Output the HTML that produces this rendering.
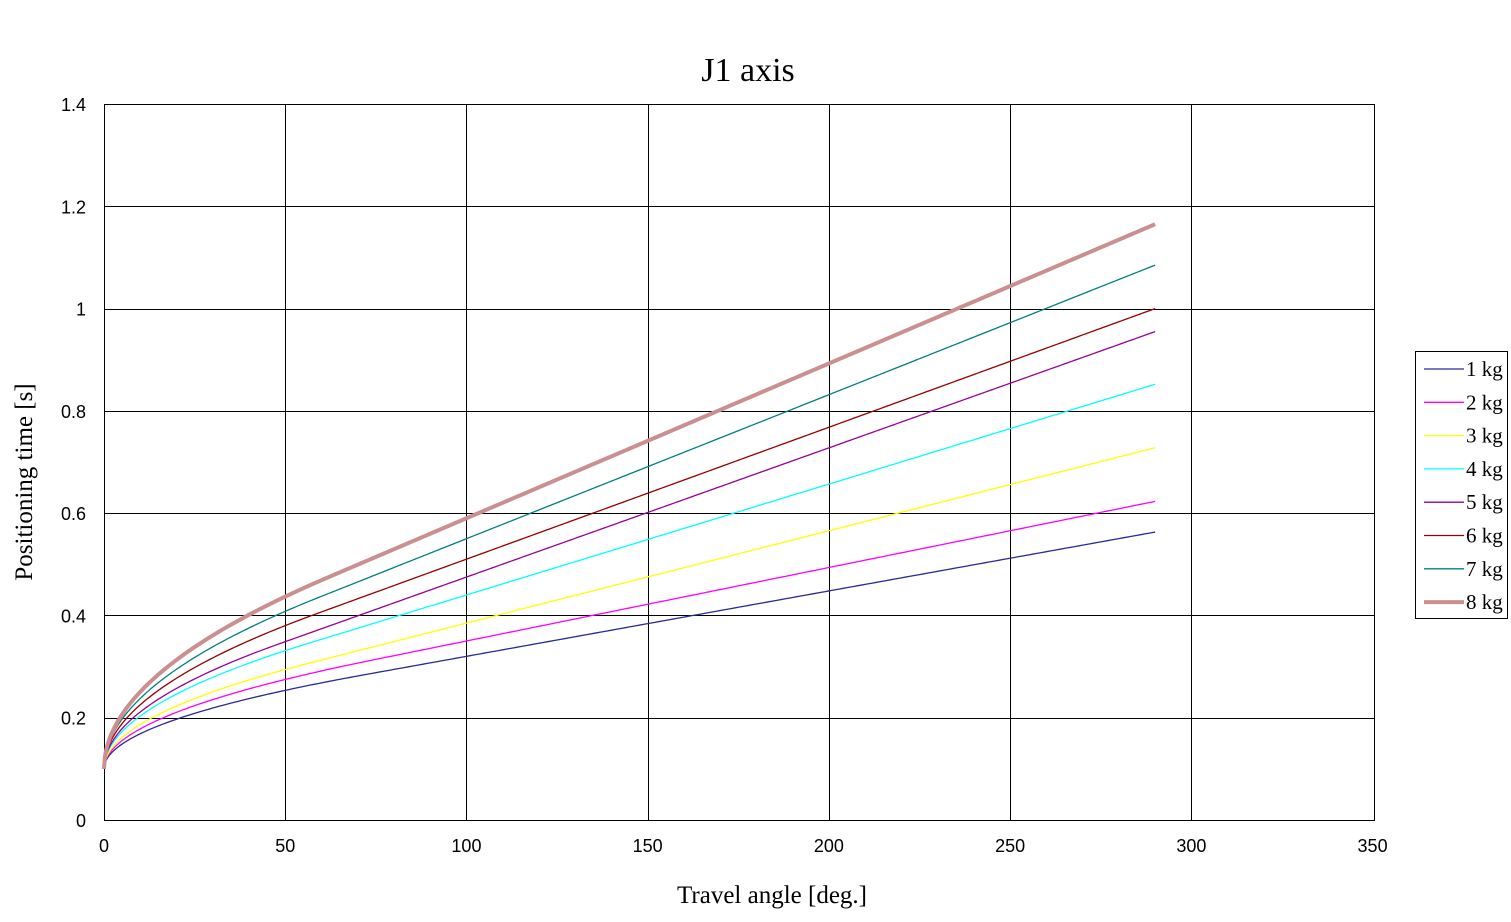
<!DOCTYPE html>
<html><head><meta charset="utf-8"><style>
html,body{margin:0;padding:0;background:#fff;}
svg{display:block;}
text{font-family:"Liberation Sans",sans-serif;}
.serif{font-family:"Liberation Serif",serif;}
</style></head><body>
<svg id="s" width="1511" height="922" xmlns="http://www.w3.org/2000/svg">
<rect width="1511" height="922" fill="#fff"/>
<g id="grid" stroke="#000" stroke-width="1"></g>
<rect x="104.5" y="104.5" width="1270" height="716" fill="none" stroke="#000"/>
<g id="series" fill="none"></g>
<g id="labels" font-size="18" fill="#000"></g>
<text class="serif" x="748" y="81" font-size="34" text-anchor="middle">J1 axis</text>
<text class="serif" x="772" y="903" font-size="25" text-anchor="middle">Travel angle [deg.]</text>
<text class="serif" transform="translate(32,482) rotate(-90)" font-size="25" text-anchor="middle">Positioning time [s]</text>
<rect x="1415.5" y="351.5" width="92" height="267" fill="#fff" stroke="#000"/>
<g id="legend"></g>
</svg>
<script>
var X=function(v){return 104+v*3.6245;},Y=function(v){return 820-v*716/1.4;};
var g=document.getElementById('grid'),lb=document.getElementById('labels'),h='',l='';
for(var i=1;i<7;i++){var x=Math.round(X(i*50))+0.5;h+='<line x1="'+x+'" y1="104" x2="'+x+'" y2="820"/>';}
for(var i=1;i<7;i++){var y=Math.round(Y(i*0.2))+0.5;h+='<line x1="104" y1="'+y+'" x2="1374" y2="'+y+'"/>';}
g.innerHTML=h;
for(var i=0;i<=7;i++){l+='<text x="'+X(i*50)+'" y="852" text-anchor="middle">'+(i*50)+'</text>';}
var yl=['0','0.2','0.4','0.6','0.8','1','1.2','1.4'];
for(var i=0;i<=7;i++){l+='<text x="86" y="'+(Y(i*0.2)+7)+'" text-anchor="end">'+yl[i]+'</text>';}
lb.innerHTML=l;
var d=[[0.32,0.563,'#2a2a96',1.3],[0.35,0.623,'#ff00ff',1.3],[0.385,0.728,'#ffff00',1.3],[0.44,0.852,'#00ffff',1.3],[0.475,0.955,'#990099',1.3],[0.51,1.0,'#990000',1.3],[0.55,1.085,'#008080',1.3],[0.59,1.165,'#cc8f8f',4]];
var s='',lg='';
d.forEach(function(e,k){
 var sl=(e[1]-e[0])/190,I=e[0]-100*sl,v=1/sl,a=v/(I-0.1),xc=v*v/a,p='';
 for(var x=0;x<=290;x+=(x<10?0.25:1)){
  var t=x<xc?0.1+2*Math.sqrt(x/a):I+sl*x;
  p+=(p?'L':'M')+X(x).toFixed(2)+' '+Y(t).toFixed(2);
 }
 s+='<path d="'+p+'" stroke="'+e[2]+'" stroke-width="'+e[3]+'"/>';
 var yy=369+k*33.3;
 lg+='<line x1="1424" y1="'+yy+'" x2="1464" y2="'+yy+'" stroke="'+e[2]+'" stroke-width="'+e[3]+'"/>';
 lg+='<text class="serif" x="1466" y="'+(yy+7)+'" font-size="21">'+(k+1)+' kg</text>';
});
document.getElementById('series').innerHTML=s;
document.getElementById('legend').innerHTML=lg;
</script>
</body></html>
